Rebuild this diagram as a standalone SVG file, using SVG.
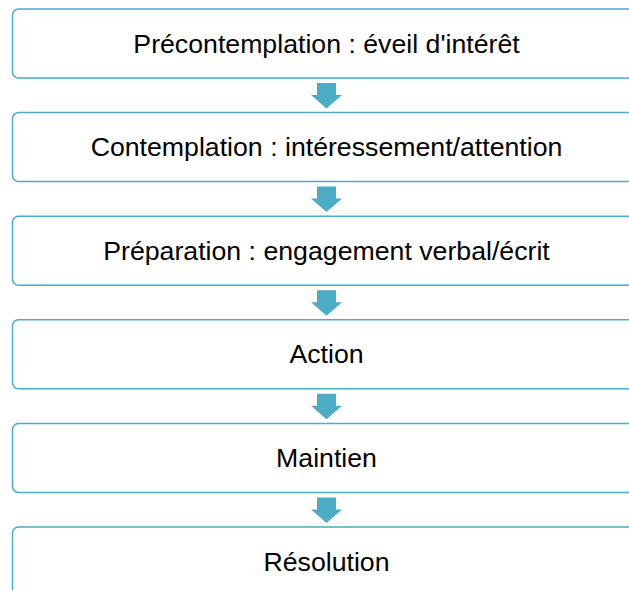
<svg xmlns="http://www.w3.org/2000/svg" width="629" height="590" viewBox="0 0 629 590">
<style>
.box{fill:#ffffff;stroke:#4bacc6;stroke-width:1.5}
.lbl{font-family:"Liberation Sans",Arial,sans-serif;font-size:26.7px;fill:#000000;text-anchor:middle;dominant-baseline:central}
.arr{fill:#4bacc6}
</style>
<rect width="629" height="590" fill="#ffffff"/>
<g id="connectors">
<polygon class="arr" points="317,83 336,83 336,95 342,95 326.5,108.5 311,95 317,95"/>
<polygon class="arr" points="317,186.6 336,186.6 336,198.6 342,198.6 326.5,212.1 311,198.6 317,198.6"/>
<polygon class="arr" points="317,290.2 336,290.2 336,302.2 342,302.2 326.5,315.7 311,302.2 317,302.2"/>
<polygon class="arr" points="317,393.8 336,393.8 336,405.8 342,405.8 326.5,419.3 311,405.8 317,405.8"/>
<polygon class="arr" points="317,497.4 336,497.4 336,509.4 342,509.4 326.5,522.9 311,509.4 317,509.4"/>
</g>
<g id="n1"><rect class="box" x="12.5" y="9" width="628" height="69" rx="6"/><text class="lbl" x="326.5" y="43.5">Précontemplation : éveil d'intérêt</text></g>
<g id="n2"><rect class="box" x="12.5" y="112.6" width="628" height="69" rx="6"/><text class="lbl" x="326.5" y="147.1">Contemplation : intéressement/attention</text></g>
<g id="n3"><rect class="box" x="12.5" y="216.2" width="628" height="69" rx="6"/><text class="lbl" x="326.5" y="250.7">Préparation : engagement verbal/écrit</text></g>
<g id="n4"><rect class="box" x="12.5" y="319.8" width="628" height="69" rx="6"/><text class="lbl" x="326.5" y="354.3">Action</text></g>
<g id="n5"><rect class="box" x="12.5" y="423.4" width="628" height="69" rx="6"/><text class="lbl" x="326.5" y="457.9">Maintien</text></g>
<g id="n6"><rect class="box" x="12.5" y="527" width="628" height="69" rx="6"/><text class="lbl" x="326.5" y="561.5">Résolution</text></g>
</svg>
